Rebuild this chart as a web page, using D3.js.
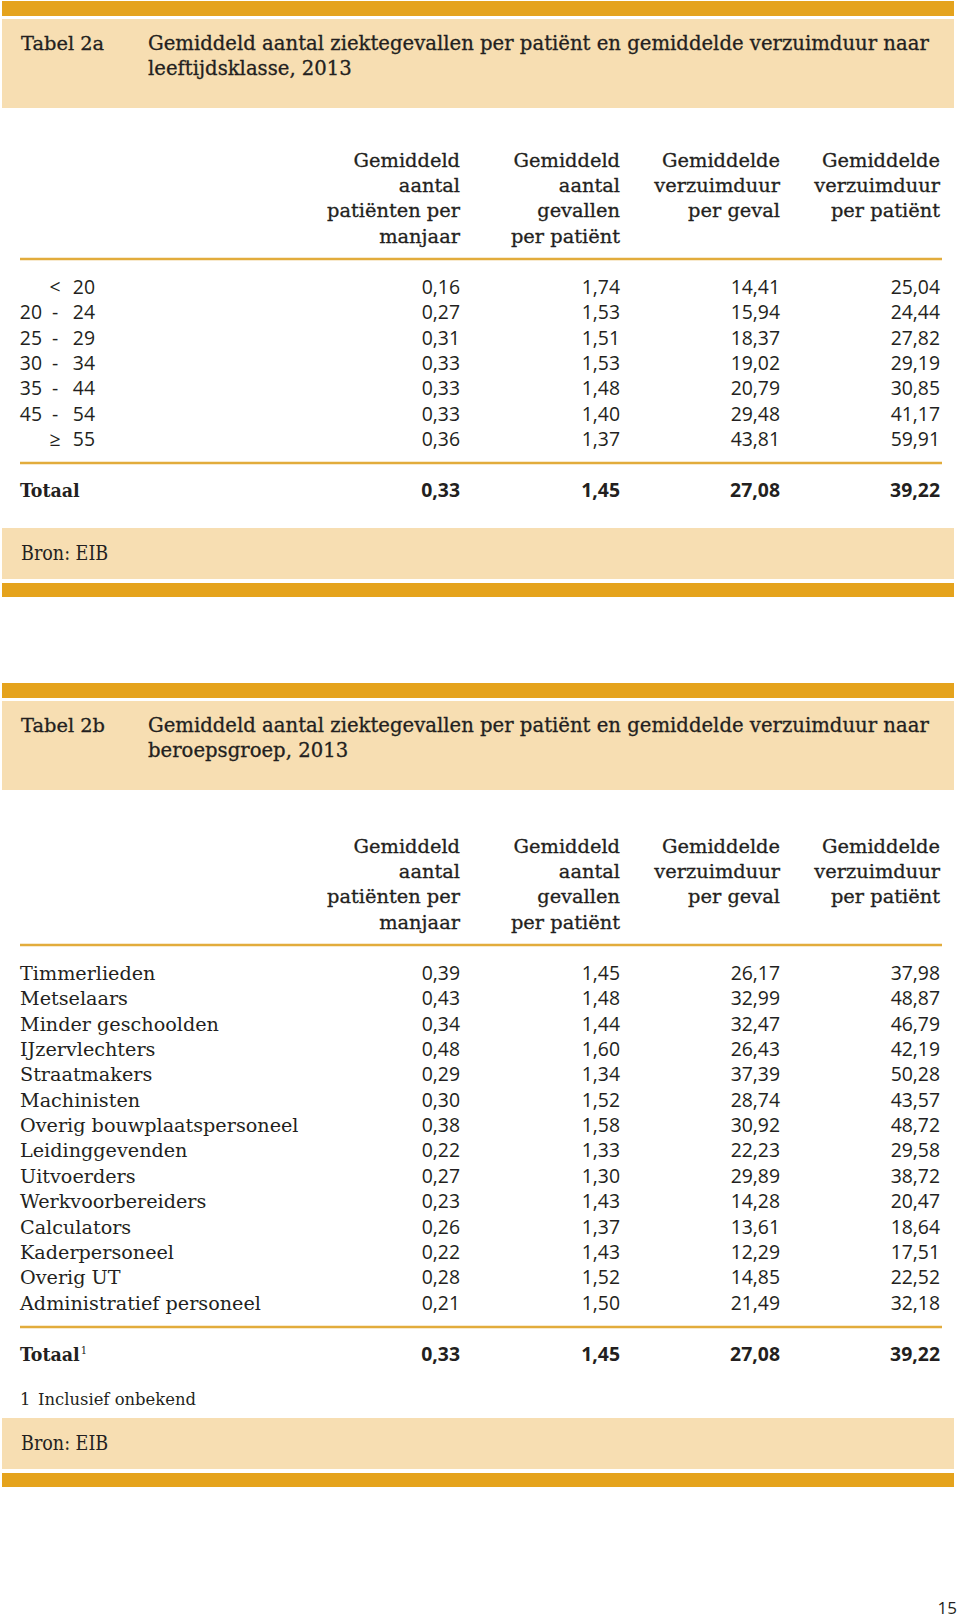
<!DOCTYPE html>
<html><head><meta charset="utf-8">
<script src="https://cdn.jsdelivr.net/npm/d3@7"></script>
<style>
html,body{margin:0;padding:0;background:#fff;}
svg{display:block;}
.serif{font-family:"DejaVu Serif",serif;}
.serifc{font-family:"DejaVu Serif Condensed","DejaVu Serif",serif;}
.sans{font-family:"Open Sans","DejaVu Sans",sans-serif;}
</style></head>
<body>
<svg id="chart" width="960" height="1618"></svg>
<script>
// ---------- DATA ----------
const columnHeaders = [
  ["Gemiddeld","aantal","patiënten per","manjaar"],
  ["Gemiddeld","aantal","gevallen","per patiënt"],
  ["Gemiddelde","verzuimduur","per geval"],
  ["Gemiddelde","verzuimduur","per patiënt"]
];
const columnKeys = ["patienten","gevallen","duurGeval","duurPatient"];

const titleA = ["Gemiddeld aantal ziektegevallen per patiënt en gemiddelde verzuimduur naar","leeftijdsklasse, 2013"];
const ageFrom = ["", "20","25","30","35","45",""];
const ageSep  = ["<", "-","-","-","-","-","≥"];
const ageTo   = ["20","24","29","34","44","54","55"];
const agePatienten   = [0.16,0.27,0.31,0.33,0.33,0.33,0.36];
const ageGevallen    = [1.74,1.53,1.51,1.53,1.48,1.40,1.37];
const ageDuurGeval   = [14.41,15.94,18.37,19.02,20.79,29.48,43.81];
const ageDuurPatient = [25.04,24.44,27.82,29.19,30.85,41.17,59.91];
const totaal = [0.33,1.45,27.08,39.22];

const titleB = ["Gemiddeld aantal ziektegevallen per patiënt en gemiddelde verzuimduur naar","beroepsgroep, 2013"];
const beroepen = ["Timmerlieden","Metselaars","Minder geschoolden","IJzervlechters","Straatmakers","Machinisten","Overig bouwplaatspersoneel","Leidinggevenden","Uitvoerders","Werkvoorbereiders","Calculators","Kaderpersoneel","Overig UT","Administratief personeel"];
const berPatienten   = [0.39,0.43,0.34,0.48,0.29,0.30,0.38,0.22,0.27,0.23,0.26,0.22,0.28,0.21];
const berGevallen    = [1.45,1.48,1.44,1.60,1.34,1.52,1.58,1.33,1.30,1.43,1.37,1.43,1.52,1.50];
const berDuurGeval   = [26.17,32.99,32.47,26.43,37.39,28.74,30.92,22.23,29.89,14.28,13.61,12.29,14.85,21.49];
const berDuurPatient = [37.98,48.87,46.79,42.19,50.28,43.57,48.72,29.58,38.72,20.47,18.64,17.51,22.52,32.18];

const footnoteMark = "1";
const footnoteText = "Inclusief onbekend";
const bron = "Bron: EIB";
const pageNumber = "15";

// ---------- STYLE ----------
const C = {dark:"#E5A31D", light:"#F7DEB2", rule:"#E2AC3C", text:"#231f20"};
const fmt = v => d3.format(".2f")(v).replace(".", ",");

const svg = d3.select("#chart");
const x = d3.scalePoint().domain(columnKeys).range([460, 940]);

function drawTable(opt){
  const g = svg.append("g");
  const t0 = opt.top;
  g.append("rect").attr("x",2).attr("y",t0).attr("width",952).attr("height",15).attr("fill",C.dark);
  g.append("rect").attr("x",2).attr("y",t0+18).attr("width",952).attr("height",89).attr("fill",C.light);
  g.append("text").attr("class","serif").attr("x",21).attr("y",t0+49).attr("font-size",19.4)
    .attr("fill",C.text).attr("stroke",C.text).attr("stroke-width",0.3).text(opt.label);
  opt.title.forEach((line,i)=>{
    g.append("text").attr("class","serif").attr("x",148).attr("y",t0+49+i*24.5).attr("font-size",19.65)
      .attr("fill",C.text).attr("stroke",C.text).attr("stroke-width",0.3).text(line);
  });
  const hy = d3.scaleLinear().domain([0,3]).range([opt.headTop, opt.headTop+75.5]);
  columnHeaders.forEach((lines,ci)=>{
    const tx = g.append("text").attr("class","serif").attr("text-anchor","end").attr("font-size",19.4)
      .attr("fill",C.text).attr("stroke",C.text).attr("stroke-width",0.3);
    lines.forEach((l,li)=>tx.append("tspan").attr("x",x(columnKeys[ci])).attr("y",hy(li)).text(l));
  });
  g.append("line").attr("x1",20).attr("x2",942).attr("y1",opt.headRule).attr("y2",opt.headRule)
    .attr("stroke",C.rule).attr("stroke-width",2.5);
  const n = opt.values[0].length;
  const y = d3.scalePoint().domain(d3.range(n)).range([opt.rowTop, opt.rowTop + (n-1)*25.35]);
  opt.drawLabel(g, y);
  columnKeys.forEach((k,ci)=>{
    g.selectAll(null).data(opt.values[ci]).enter().append("text")
      .attr("class","sans").attr("text-anchor","end").attr("font-size",19.4).attr("fill",C.text)
      .attr("x",x(k)).attr("y",(d,i)=>y(i)).text(fmt);
  });
  g.append("line").attr("x1",20).attr("x2",942).attr("y1",opt.sepY).attr("y2",opt.sepY)
    .attr("stroke",C.rule).attr("stroke-width",2.5);
  const tl = g.append("text").attr("class","serifc").attr("x",20).attr("y",opt.totY).attr("font-size",19.4)
    .attr("font-weight","bold").attr("fill",C.text).text("Totaal");
  if(opt.sup) tl.append("tspan").attr("font-size",11).attr("dy",-7).attr("dx",1).attr("font-weight","normal").text("1");
  columnKeys.forEach((k,ci)=>{
    g.append("text").attr("class","sans").attr("text-anchor","end").attr("font-size",19.4)
      .attr("font-weight","bold").attr("fill",C.text).attr("x",x(k)).attr("y",opt.totY).text(fmt(totaal[ci]));
  });
  if(opt.footY){
    g.append("text").attr("class","serif").attr("x",20).attr("y",opt.footY).attr("font-size",16.4)
      .attr("fill",C.text).text(footnoteMark);
    g.append("text").attr("class","serif").attr("x",38).attr("y",opt.footY).attr("font-size",16.4)
      .attr("fill",C.text).text(footnoteText);
  }
  g.append("rect").attr("x",2).attr("y",opt.bronTop).attr("width",952).attr("height",51).attr("fill",C.light);
  g.append("text").attr("class","serifc").attr("x",21).attr("y",opt.bronTop+32).attr("font-size",19.5)
    .attr("fill",C.text).text(bron);
  g.append("rect").attr("x",2).attr("y",opt.bronTop+55).attr("width",952).attr("height",14).attr("fill",C.dark);
}

drawTable({
  top:1, label:"Tabel 2a", title:titleA, headTop:167, headRule:259, rowTop:294,
  values:[agePatienten,ageGevallen,ageDuurGeval,ageDuurPatient],
  sepY:463, totY:497, bronTop:528,
  drawLabel:(g,y)=>{
    const s = g.append("g").attr("class","sans").attr("font-size",19.4).attr("fill",C.text);
    s.selectAll(null).data(ageFrom).enter().append("text").attr("text-anchor","end")
      .attr("x",42).attr("y",(d,i)=>y(i)).text(d=>d);
    s.selectAll(null).data(ageSep).enter().append("text").attr("text-anchor","middle")
      .attr("x",55).attr("y",(d,i)=>y(i)).text(d=>d);
    s.selectAll(null).data(ageTo).enter().append("text").attr("text-anchor","end")
      .attr("x",95).attr("y",(d,i)=>y(i)).text(d=>d);
  }
});

drawTable({
  top:683, label:"Tabel 2b", title:titleB, headTop:853, headRule:945, rowTop:980,
  values:[berPatienten,berGevallen,berDuurGeval,berDuurPatient],
  sepY:1327, totY:1361, sup:true, footY:1405, bronTop:1418,
  drawLabel:(g,y)=>{
    g.selectAll(null).data(beroepen).enter().append("text").attr("class","serif")
      .attr("font-size",19.2).attr("fill",C.text).attr("x",20).attr("y",(d,i)=>y(i)).text(d=>d);
  }
});

svg.append("text").attr("class","sans").attr("text-anchor","end").attr("x",957).attr("y",1614)
  .attr("font-size",17).attr("fill",C.text).text(pageNumber);
</script>
</body></html>
